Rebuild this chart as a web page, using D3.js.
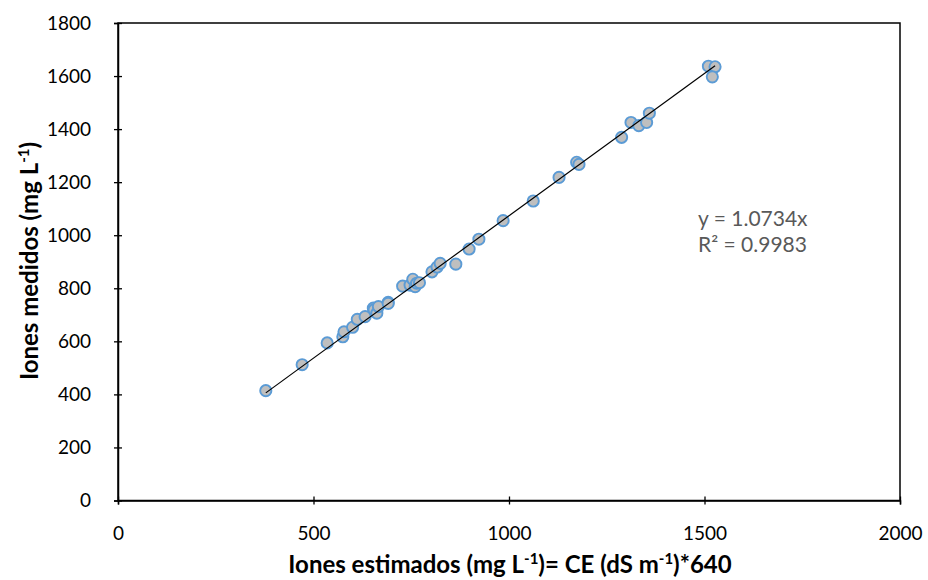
<!DOCTYPE html>
<html>
<head>
<meta charset="utf-8">
<script src="https://cdn.jsdelivr.net/npm/d3@7"></script>
<style>
  body { margin: 0; background: #fff; }
  text { font-family: Lato, "Open Sans", sans-serif; }
</style>
</head>
<body>
<script>
// data
const estimados = [378, 471, 535, 575, 578, 600, 612, 632, 653, 655, 662, 666, 691, 691,
  728, 747, 754, 760, 764, 771, 803, 816, 824, 864, 898, 923, 985, 1062, 1128, 1173, 1179,
  1288, 1312, 1332, 1352, 1359, 1510, 1527, 1520];
const medidos = [414, 512, 594, 617, 636, 653, 683, 693, 725, 719, 706, 731, 747, 743,
  808, 812, 834, 806, 819, 821, 862, 880, 894, 891, 948, 985, 1055, 1129, 1218, 1275, 1267,
  1369, 1425, 1413, 1425, 1460, 1637, 1635, 1597];
const xTicks = [0, 500, 1000, 1500, 2000];
const yTicks = [0, 200, 400, 600, 800, 1000, 1200, 1400, 1600, 1800];
const slope = 1.0734;
const r2 = 0.9983;

// dimensions (plot area edges in px)
const width = 928, height = 580;
const pLeft = 118, pRight = 900, pTop = 23, pBottom = 500.5;

const svg = d3.select('body').append('svg')
  .attr('width', width)
  .attr('height', height);

const x = d3.scaleLinear().domain([0, 2000]).range([pLeft, pRight]);
const y = d3.scaleLinear().domain([0, 1800]).range([pBottom, pTop]);

// plot area border
svg.append('rect')
  .attr('x', pLeft).attr('y', pTop)
  .attr('width', pRight - pLeft).attr('height', pBottom - pTop)
  .attr('fill', 'none').attr('stroke', '#000').attr('stroke-width', 1.5);

// axes
const xAxis = svg.append('g')
  .attr('transform', `translate(0,${pBottom})`)
  .call(d3.axisBottom(x).tickValues(xTicks).tickSize(4).tickPadding(22).tickFormat(d3.format('d')));
xAxis.selectAll('.tick line').attr('y1', -4);

const yAxis = svg.append('g')
  .attr('transform', `translate(${pLeft},0)`)
  .call(d3.axisLeft(y).tickValues(yTicks).tickSize(4).tickPadding(23).tickFormat(d3.format('d')));
yAxis.selectAll('.tick line').attr('x1', 4);

[xAxis, yAxis].forEach(a => {
  a.select('.domain').attr('stroke-width', 1.5);
  a.selectAll('.tick line').attr('stroke-width', 1.3);
  a.selectAll('.tick text').attr('font-size', 19).attr('fill', '#000')
    .style('font-family', 'Lato, sans-serif');
});

// points
const pts = estimados.map((v, i) => ({ x: v, y: medidos[i] }));
svg.append('g').selectAll('circle')
  .data(pts)
  .enter().append('circle')
  .attr('cx', d => x(d.x))
  .attr('cy', d => y(d.y))
  .attr('r', 5.6)
  .attr('fill', '#bfbfbf')
  .attr('stroke', '#5b9bd5')
  .attr('stroke-width', 1.9);

// trend line through origin, over the data range
const x0 = d3.min(estimados), x1 = d3.max(estimados);
svg.append('line')
  .attr('x1', x(x0)).attr('y1', y(slope * x0))
  .attr('x2', x(x1)).attr('y2', y(slope * x1))
  .attr('stroke', '#000').attr('stroke-width', 1.2);

// equation
svg.append('text')
  .attr('x', 698).attr('y', 226)
  .attr('font-size', 21).attr('fill', '#595959')
  .text(`y = ${slope}x`);
svg.append('text')
  .attr('x', 698).attr('y', 252)
  .attr('font-size', 21).attr('fill', '#595959')
  .text('R² = ' + r2);

// axis titles
const xt = svg.append('text')
  .attr('x', 510).attr('y', 573)
  .attr('text-anchor', 'middle')
  .attr('font-size', 24).attr('font-weight', 'bold');
xt.append('tspan').text('Iones estimados (mg L');
xt.append('tspan').attr('font-size', 15).attr('dy', -9).text('-1');
xt.append('tspan').attr('dy', 9).text(')= CE (dS m');
xt.append('tspan').attr('font-size', 15).attr('dy', -9).text('-1');
xt.append('tspan').attr('dy', 9).text(')*640');

const yt = svg.append('text')
  .attr('transform', `translate(38,261) rotate(-90)`)
  .attr('text-anchor', 'middle')
  .attr('font-size', 24).attr('font-weight', 'bold');
yt.append('tspan').text('Iones medidos (mg L');
yt.append('tspan').attr('font-size', 15).attr('dy', -9).text('-1');
yt.append('tspan').attr('dy', 9).text(')');
</script>
</body>
</html>
